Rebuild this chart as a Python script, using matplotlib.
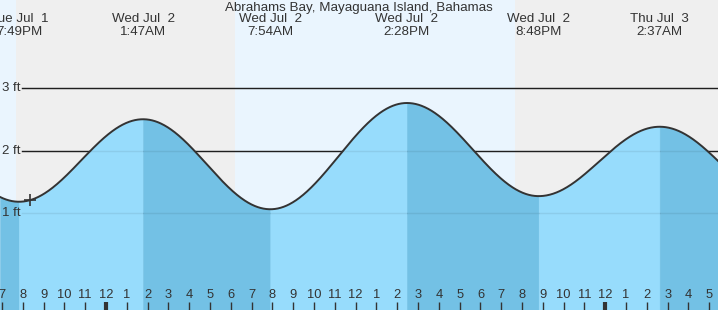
import numpy as np
import matplotlib
matplotlib.use("Agg")
import matplotlib.pyplot as plt

plt.rcParams["font.family"] = ["Liberation Sans", "DejaVu Sans"]

# tide extremes, hours from midnight Jul 2 (first and last lie outside the view)
tide_hours = [-10.3, -4.183, 1.783, 7.9, 14.467, 20.8, 26.617, 32.8]
tide_feet = [2.6, 1.18, 2.50, 1.06, 2.76, 1.27, 2.38, 1.1]
label_days = ["Tue Jul  1", "Wed Jul  2", "Wed Jul  2", "Wed Jul  2", "Wed Jul  2", "Thu Jul  3"]
label_times = ["7:49PM", "1:47AM", "7:54AM", "2:28PM", "8:48PM", "2:37AM"]

# daylight spans (hours from midnight Jul 2)
day_spans = [(-6.0, -4.33), (6.2, 19.67)]
now_hour = -3.65

title = "Abrahams Bay, Mayaguana Island, Bahamas"
ft_levels = [1, 2, 3]

x0, x1 = -5.096, 29.42
y0, y1 = -0.552, 4.408

col_night = "#efefef"
col_day = "#eaf5fe"
col_rise = "#97dcfc"
col_fall = "#73c1e5"
col_text = "#333333"


def tide_curve(t):
    h = np.zeros_like(t)
    for i in range(len(tide_hours) - 1):
        ta, tb = tide_hours[i], tide_hours[i + 1]
        ha, hb = tide_feet[i], tide_feet[i + 1]
        m = (t >= ta) & (t <= tb)
        frac = (t[m] - ta) / (tb - ta)
        h[m] = hb + (ha - hb) * (1 + np.cos(np.pi * frac)) / 2
    return h


fig = plt.figure(figsize=(7.18, 3.10), dpi=100)
ax = fig.add_axes([0, 0, 1, 1])
ax.set_xlim(x0, x1)
ax.set_ylim(y0, y1)
ax.axis("off")

ax.axvspan(x0, x1, color=col_night, zorder=0)
for a, b in day_spans:
    ax.axvspan(a, b, color=col_day, zorder=0.5, lw=0)

# reference lines under the water
for lv in ft_levels:
    ax.axhline(lv, xmin=22 / 718, xmax=1, color="#222222", lw=1, zorder=1)
    ax.text(x0 + 0.1, lv, f"{lv} ft", ha="left", va="center", fontsize=9.5,
            color=col_text, zorder=5)

# water, shaded by rising / falling
for i in range(len(tide_hours) - 1):
    ta, tb = max(tide_hours[i], x0), min(tide_hours[i + 1], x1)
    if ta >= tb:
        continue
    t = np.linspace(ta, tb, 200)
    falling = tide_feet[i + 1] < tide_feet[i]
    c = col_fall if falling else col_rise
    ax.fill_between(t, y0, tide_curve(t), facecolor=c, edgecolor=c, lw=0.4, zorder=2)

for lv in ft_levels:
    ax.axhline(lv, xmin=22 / 718, xmax=1, color="black", alpha=0.07, lw=1, zorder=3)

tt = np.linspace(x0, x1, 1500)
ax.plot(tt, tide_curve(tt), color=col_text, lw=1.4, zorder=4)
ax.plot([now_hour], tide_curve(np.array([now_hour])), marker="+", ms=9, mew=1.2,
        color=col_text, zorder=5)

# top labels at each extreme
for t, d, tm in zip(tide_hours[1:-1], label_days, label_times):
    ax.text(t, 4.1, d, ha="center", va="center", fontsize=9.6, color=col_text)
    ax.text(t, 3.895, tm, ha="center", va="center", fontsize=9.6, color=col_text)
ax.text(0.5, 0.975, title, transform=ax.transAxes, ha="center", va="center",
        fontsize=9.6, color=col_text)

# hour ticks along the bottom
for hr in range(-5, 30):
    lab = (hr % 12) or 12
    ax.text(hr, -0.32, str(lab), ha="center", va="center", fontsize=9.3, color=col_text,
            zorder=5)
    ax.plot([hr, hr], [y0, y0 + 0.13], color=col_text, lw=3 if hr % 24 == 0 else 1,
            solid_capstyle="butt", zorder=5)

fig.savefig("out.png", dpi=100)
